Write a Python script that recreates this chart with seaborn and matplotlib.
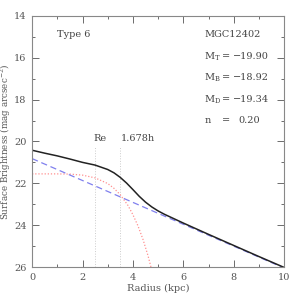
import matplotlib
matplotlib.use("Agg")
import matplotlib.pyplot as plt
import seaborn as sns
from matplotlib.ticker import MultipleLocator

# values
total_r = [0, 0.5, 1, 1.5, 2, 2.5, 3, 3.25, 3.5, 3.75, 4, 4.25, 4.5, 4.75, 5, 5.25, 5.5, 6, 7, 8, 9, 10]
total_mu = [20.42, 20.56, 20.69, 20.84, 21.0, 21.13, 21.34, 21.5, 21.72, 21.99, 22.3, 22.62,
            22.9, 23.13, 23.32, 23.48, 23.62, 23.9, 24.44, 24.97, 25.5, 26.02]
disk_r = [0, 10]
disk_mu = [20.82, 26.05]
bulge_r = [0, 1, 1.5, 2, 2.5, 3, 3.25, 3.5, 3.8, 4.0, 4.2, 4.4, 4.6, 4.8]
bulge_mu = [21.55, 21.55, 21.56, 21.61, 21.74, 22.01, 22.24, 22.55, 23.05, 23.5, 24.03, 24.68, 25.46, 26.39]
re_kpc = 2.49
h_kpc = 3.47
names = ["M$_T$", "M$_B$", "M$_D$", "n"]
values = ["\u221219.90", "\u221218.92", "\u221219.34", "0.20"]

sns.set_style("ticks")
plt.rcParams['font.family'] = ['DejaVu Serif']
plt.rcParams['mathtext.default'] = 'regular'
grey = "#555555"
tc = "#444444"

fig = plt.figure(figsize=(3, 3), dpi=100)
ax = fig.add_axes([0.107, 0.11, 0.84, 0.837])

for xv in [re_kpc, h_kpc]:
    ax.plot([xv, xv], [26, 20.2], color="#cccccc", lw=0.7, ls=":")
sns.lineplot(x=bulge_r, y=bulge_mu, ax=ax, color="#ff9090", lw=0.9, ls=(0, (1, 1.5)))
sns.lineplot(x=disk_r, y=disk_mu, ax=ax, color="#8080ee", lw=0.9, ls=(0, (5, 3)))
sns.lineplot(x=total_r, y=total_mu, ax=ax, color="#222222", lw=1.1)

ax.set_xlim(0, 10)
ax.set_ylim(26, 14)
ax.xaxis.set_major_locator(MultipleLocator(2))
ax.xaxis.set_minor_locator(MultipleLocator(1))
ax.yaxis.set_major_locator(MultipleLocator(2))
ax.yaxis.set_minor_locator(MultipleLocator(1))
ax.tick_params(which="both", direction="in", top=True, right=True, colors=grey,
               labelsize=7, pad=4)
ax.tick_params(which="major", length=5, width=0.6)
ax.tick_params(which="minor", length=2.5, width=0.6)
for s in ax.spines.values():
    s.set_color("#888888")
    s.set_linewidth(0.8)

ax.set_xlabel("Radius (kpc)", fontsize=7, color=grey, labelpad=2)
ax.set_ylabel("Surface Brightness (mag arcsec$^{-2}$)", fontsize=6.3, color=grey)
ax.yaxis.set_label_coords(-0.075, 0.5)

ax.text(1.0, 14.9, "Type 6", fontsize=7, color=tc, va="center")
ax.text(6.83, 14.9, "MGC12402", fontsize=7, color=tc, va="center")
for i, (nm, v) in enumerate(zip(names, values)):
    yy = 14.9 + (i + 1) * 1.03
    ax.text(6.83, yy, nm, fontsize=7, color=tc, va="center")
    ax.text(7.55, yy, "=", fontsize=7, color=tc, va="center")
    ax.text(9.4 if i < 3 else 9.05, yy, v, fontsize=7, color=tc, va="center", ha="right")
ax.text(2.7, 19.88, "Re", fontsize=7, color=tc, va="center", ha="center")
ax.text(3.53, 19.88, "1.678h", fontsize=7, color=tc, va="center")

fig.savefig("out.png", dpi=100)
